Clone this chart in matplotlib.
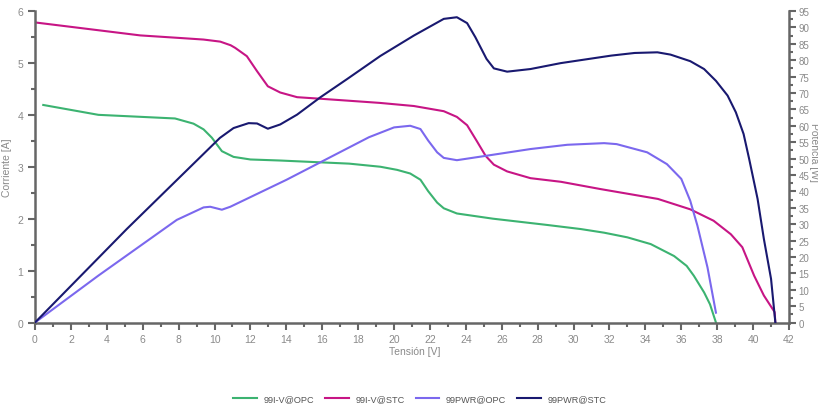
import matplotlib
matplotlib.use("Agg")
import matplotlib.pyplot as plt
from matplotlib.ticker import MultipleLocator

plt.rcParams['font.family'] = ['Liberation Sans', 'DejaVu Sans']

# I-V @ OPC (green)
iv_opc_v = [0.46, 3.53, 7.8, 8.83, 9.39, 9.85, 10.41, 11.06, 12.0, 13.66, 17.5, 19.24, 20.17,
            20.9, 21.47, 21.9, 22.4, 22.77, 23.5, 25.5, 28.5, 30.4, 31.7, 33.0, 34.3, 35.6,
            36.3, 36.7, 37.27, 37.6, 37.93]
iv_opc_i = [4.19, 4.0, 3.93, 3.83, 3.72, 3.56, 3.30, 3.19, 3.14, 3.12, 3.06, 3.0, 2.94,
            2.87, 2.75, 2.53, 2.31, 2.20, 2.10, 2.0, 1.88, 1.80, 1.73, 1.64, 1.51, 1.28,
            1.09, 0.90, 0.58, 0.35, 0.0]

# I-V @ STC (pink)
iv_stc_v = [0.0, 5.86, 8.09, 9.39, 10.32, 10.9, 11.15, 11.8, 12.37, 12.97, 13.66, 14.6, 15.9,
            19.2, 21.1, 22.77, 23.5, 24.07, 24.6, 25.1, 25.56, 26.3, 27.6, 29.3, 31.5, 34.7,
            36.5, 37.8, 38.76, 39.4, 40.06, 40.6, 41.2, 41.24]
iv_stc_i = [5.78, 5.53, 5.48, 5.45, 5.41, 5.34, 5.29, 5.13, 4.84, 4.55, 4.43, 4.34, 4.31,
            4.23, 4.17, 4.07, 3.96, 3.80, 3.50, 3.21, 3.04, 2.91, 2.78, 2.71, 2.57, 2.38,
            2.18, 1.96, 1.70, 1.45, 0.90, 0.52, 0.20, 0.0]

# PWR @ OPC (purple)
pwr_opc_v = [0.0, 3.53, 7.9, 9.39, 9.76, 10.41, 10.88, 14.0, 18.6, 20.0, 20.9, 21.47, 21.9,
             22.4, 22.77, 23.5, 25.2, 27.6, 29.65, 31.7, 32.4, 34.1, 35.2, 36.0, 36.5, 36.9,
             37.46, 37.93]
pwr_opc_p = [0.0, 14.3, 31.3, 35.1, 35.3, 34.4, 35.3, 43.5, 56.5, 59.5, 60.0, 59.0, 55.5,
             51.9, 50.2, 49.5, 50.9, 52.9, 54.2, 54.7, 54.4, 51.9, 48.3, 43.8, 37.1, 29.5,
             16.8, 3.0]

# PWR @ STC (navy)
pwr_stc_v = [0.0, 5.11, 10.3, 11.06, 11.9, 12.37, 12.97, 13.66, 14.6, 15.9, 17.4, 19.24, 21.1,
             22.77, 23.5, 24.07, 24.53, 25.15, 25.56, 26.3, 27.6, 29.28, 32.1, 33.4, 34.67,
             35.4, 36.5, 37.27, 37.93, 38.58, 39.04, 39.47, 39.78, 40.25, 40.6, 41.0, 41.24]
pwr_stc_p = [0.0, 28.5, 56.3, 59.3, 60.8, 60.7, 59.1, 60.4, 63.4, 68.7, 74.3, 81.3, 87.5,
             92.6, 93.1, 91.3, 87.0, 80.4, 77.5, 76.5, 77.3, 79.1, 81.4, 82.2, 82.4,
             81.7, 79.7, 77.3, 73.7, 69.2, 64.1, 57.5, 49.9, 37.7, 25.5, 13.3, 0.0]

labels = ['99I-V@OPC', '99I-V@STC', '99PWR@OPC', '99PWR@STC']
colors = ['#3cb371', '#c71585', '#7b68ee', '#191970']

W, H = 818, 410
fig = plt.figure(figsize=(W / 100, H / 100), dpi=100)
ax = fig.add_axes([35 / W, 1 - 323.5 / H, (789 - 35) / W, (323.5 - 12) / H])
ax2 = ax.twinx()

axc = '#666666'
txc = '#8a8a8a'

l1, = ax.plot(iv_opc_v, iv_opc_i, color=colors[0], lw=1.5, label=labels[0])
l2, = ax.plot(iv_stc_v, iv_stc_i, color=colors[1], lw=1.5, label=labels[1])
l3, = ax2.plot(pwr_opc_v, pwr_opc_p, color=colors[2], lw=1.5, label=labels[2])
l4, = ax2.plot(pwr_stc_v, pwr_stc_p, color=colors[3], lw=1.5, label=labels[3])

ax.set_xlim(0, 42)
ax.set_ylim(0, 6)
ax2.set_ylim(0, 95)

ax.xaxis.set_major_locator(MultipleLocator(2))
ax.xaxis.set_minor_locator(MultipleLocator(1))
ax.yaxis.set_major_locator(MultipleLocator(1))
ax.yaxis.set_minor_locator(MultipleLocator(0.5))
ax2.yaxis.set_major_locator(MultipleLocator(5))
ax2.yaxis.set_minor_locator(MultipleLocator(2.5))

for a in (ax, ax2):
    for s in a.spines.values():
        s.set_color(axc)
        s.set_linewidth(1.8)
    a.spines['top'].set_visible(False)
    a.tick_params(which='both', colors=axc, labelcolor=txc, labelsize=7.5, width=1.5)
    a.tick_params(which='major', length=5)
    a.tick_params(which='minor', length=3)
    a.patch.set_visible(False)
ax2.tick_params(axis='y', labelsize=7, pad=2)
ax2.spines['left'].set_visible(False)
ax2.spines['bottom'].set_visible(False)
ax.spines['right'].set_visible(False)

ax.set_xlabel('Tensión [V]', color=txc, fontsize=7.5)
ax.xaxis.set_label_coords(21 / 42 + 0.003, -0.075)
ax.set_ylabel('Corriente [A]', color=txc, fontsize=7.5, labelpad=4)
ax2.set_ylabel('Potencia [W]', color=txc, fontsize=7.5, rotation=270, va='center')
ax2.yaxis.set_label_coords(1.0335, 0.55)

fig.legend([l1, l2, l3, l4], labels, loc='center', bbox_to_anchor=(0.513, 1 - 400 / H),
           ncol=4, frameon=False, fontsize=6.6, labelcolor='#555555',
           handlelength=2.6, columnspacing=1.2, handletextpad=0.7)

fig.savefig('out.png', dpi=100)
